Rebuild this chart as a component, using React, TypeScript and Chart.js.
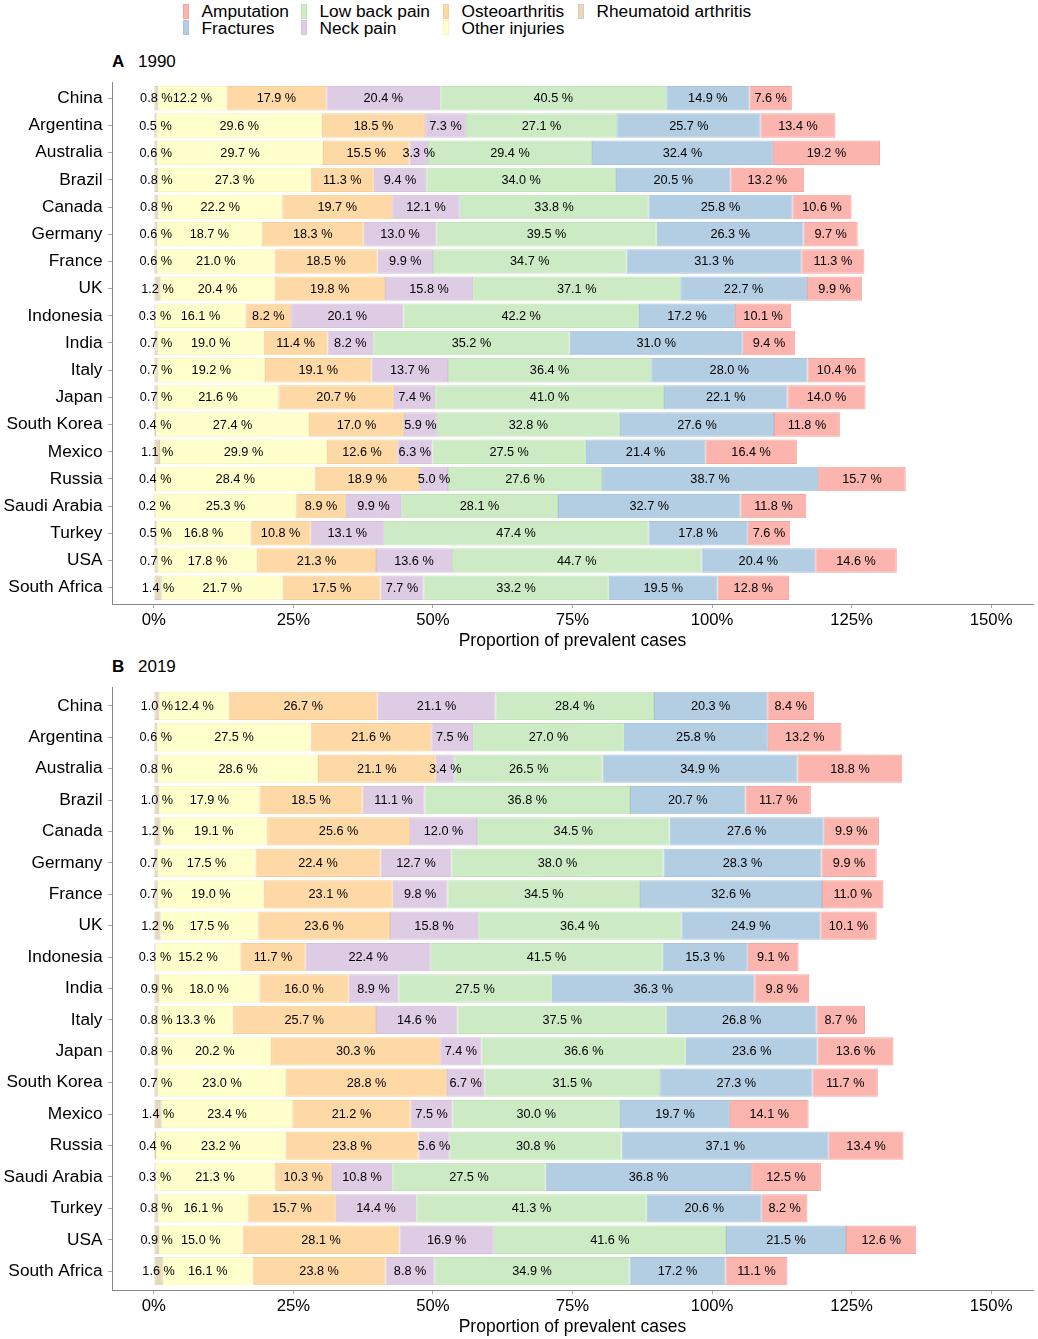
import React, { useEffect, useRef } from "react";
import { Chart, registerables } from "chart.js";
Chart.register(...registerables);

const FONT = '"Liberation Sans", Arial, Helvetica, sans-serif';

const categories = [
  "China", "Argentina", "Australia", "Brazil", "Canada", "Germany", "France", "UK",
  "Indonesia", "India", "Italy", "Japan", "South Korea", "Mexico", "Russia",
  "Saudi Arabia", "Turkey", "USA", "South Africa",
];

const seriesNames = [
  "Rheumatoid arthritis", "Other injuries", "Osteoarthritis", "Neck pain",
  "Low back pain", "Fractures", "Amputation",
];
const seriesColors = ["#E5D8BD", "#FFFFCC", "#FED9A6", "#DECBE4", "#CCEBC5", "#B3CDE3", "#FBB4AE"];
const seriesBorders = ["#DCCDAE", "#F7F7BF", "#F8CF98", "#D6C0DD", "#C1E3B9", "#A8C4DD", "#F5A6A0"];

const xTicks = [0, 25, 50, 75, 100, 125, 150];

// 1990
const rheumatoid1990 = [0.8, 0.5, 0.6, 0.8, 0.8, 0.6, 0.6, 1.2, 0.3, 0.7, 0.7, 0.7, 0.4, 1.1, 0.4, 0.2, 0.5, 0.7, 1.4];
const otherInjuries1990 = [12.2, 29.6, 29.7, 27.3, 22.2, 18.7, 21.0, 20.4, 16.1, 19.0, 19.2, 21.6, 27.4, 29.9, 28.4, 25.3, 16.8, 17.8, 21.7];
const osteoarthritis1990 = [17.9, 18.5, 15.5, 11.3, 19.7, 18.3, 18.5, 19.8, 8.2, 11.4, 19.1, 20.7, 17.0, 12.6, 18.9, 8.9, 10.8, 21.3, 17.5];
const neckPain1990 = [20.4, 7.3, 3.3, 9.4, 12.1, 13.0, 9.9, 15.8, 20.1, 8.2, 13.7, 7.4, 5.9, 6.3, 5.0, 9.9, 13.1, 13.6, 7.7];
const lowBackPain1990 = [40.5, 27.1, 29.4, 34.0, 33.8, 39.5, 34.7, 37.1, 42.2, 35.2, 36.4, 41.0, 32.8, 27.5, 27.6, 28.1, 47.4, 44.7, 33.2];
const fractures1990 = [14.9, 25.7, 32.4, 20.5, 25.8, 26.3, 31.3, 22.7, 17.2, 31.0, 28.0, 22.1, 27.6, 21.4, 38.7, 32.7, 17.8, 20.4, 19.5];
const amputation1990 = [7.6, 13.4, 19.2, 13.2, 10.6, 9.7, 11.3, 9.9, 10.1, 9.4, 10.4, 14.0, 11.8, 16.4, 15.7, 11.8, 7.6, 14.6, 12.8];

// 2019
const rheumatoid2019 = [1.0, 0.6, 0.8, 1.0, 1.2, 0.7, 0.7, 1.2, 0.3, 0.9, 0.8, 0.8, 0.7, 1.4, 0.4, 0.3, 0.8, 0.9, 1.6];
const otherInjuries2019 = [12.4, 27.5, 28.6, 17.9, 19.1, 17.5, 19.0, 17.5, 15.2, 18.0, 13.3, 20.2, 23.0, 23.4, 23.2, 21.3, 16.1, 15.0, 16.1];
const osteoarthritis2019 = [26.7, 21.6, 21.1, 18.5, 25.6, 22.4, 23.1, 23.6, 11.7, 16.0, 25.7, 30.3, 28.8, 21.2, 23.8, 10.3, 15.7, 28.1, 23.8];
const neckPain2019 = [21.1, 7.5, 3.4, 11.1, 12.0, 12.7, 9.8, 15.8, 22.4, 8.9, 14.6, 7.4, 6.7, 7.5, 5.6, 10.8, 14.4, 16.9, 8.8];
const lowBackPain2019 = [28.4, 27.0, 26.5, 36.8, 34.5, 38.0, 34.5, 36.4, 41.5, 27.5, 37.5, 36.6, 31.5, 30.0, 30.8, 27.5, 41.3, 41.6, 34.9];
const fractures2019 = [20.3, 25.8, 34.9, 20.7, 27.6, 28.3, 32.6, 24.9, 15.3, 36.3, 26.8, 23.6, 27.3, 19.7, 37.1, 36.8, 20.6, 21.5, 17.2];
const amputation2019 = [8.4, 13.2, 18.8, 11.7, 9.9, 9.9, 11.0, 10.1, 9.1, 9.8, 8.7, 13.6, 11.7, 14.1, 13.4, 12.5, 8.2, 12.6, 11.1];

const values1990 = [rheumatoid1990, otherInjuries1990, osteoarthritis1990, neckPain1990, lowBackPain1990, fractures1990, amputation1990];
const values2019 = [rheumatoid2019, otherInjuries2019, osteoarthritis2019, neckPain2019, lowBackPain2019, fractures2019, amputation2019];

const legendRows = [
  ["Amputation", "Low back pain", "Osteoarthritis", "Rheumatoid arthritis"],
  ["Fractures", "Neck pain", "Other injuries"],
];

const segmentLabels = {
  id: "segmentLabels",
  afterDatasetsDraw(chart: any) {
    const ctx = chart.ctx;
    ctx.save();
    ctx.font = `12.7px ${FONT}`;
    ctx.fillStyle = "#000";
    ctx.textAlign = "center";
    ctx.textBaseline = "middle";
    chart.data.datasets.forEach((ds: any, di: number) => {
      const meta = chart.getDatasetMeta(di);
      meta.data.forEach((bar: any, i: number) => {
        const v = ds.data[i].x;
        const p = bar.getProps(["x", "y", "base"], true);
        ctx.fillText(v.toFixed(1) + " %", (p.x + p.base) / 2, p.y + 0.5);
      });
    });
    ctx.restore();
  },
};

type PanelProps = {
  values: number[][];
  top: number;
  height: number;
  plotTop: number;
  axisHeight: number;
  titlePad: number;
};

function Panel({ values, top, height, plotTop, axisHeight, titlePad }: PanelProps) {
  const ref = useRef<HTMLCanvasElement>(null);
  useEffect(() => {
    if (!ref.current) return;
    const chart = new Chart(ref.current, {
      type: "bar",
      data: {
        labels: categories.map((_, i) => i),
        datasets: seriesNames.map((name, s) => ({
          label: name,
          data: values[s].map((v, i) => ({ x: v, y: i })),
          backgroundColor: seriesColors[s],
          borderColor: seriesBorders[s],
          borderWidth: 1,
          borderSkipped: false,
          barPercentage: 0.9,
          categoryPercentage: 1,
        })),
      } as any,
      options: {
        indexAxis: "y",
        responsive: false,
        maintainAspectRatio: false,
        animation: false,
        devicePixelRatio: 1,
        layout: { padding: { top: plotTop, right: 5, left: 0, bottom: 0 } },
        plugins: { legend: { display: false }, tooltip: { enabled: false } },
        scales: {
          y: {
            type: "linear",
            reverse: true,
            offset: false,
            min: -0.6,
            max: 18.6,
            stacked: true,
            afterBuildTicks: (s: any) => {
              s.ticks = categories.map((_, i) => ({ value: i }));
            },
            afterFit: (s: any) => {
              s.width = 112;
            },
            ticks: {
              autoSkip: false,
              padding: 5.5,
              color: "#000",
              font: { size: 17.3, family: FONT },
              callback: (v: any) => categories[Math.round(Number(v))],
            },
            grid: { offset: false, drawOnChartArea: false, drawTicks: true, tickLength: 4, color: "#aaa" },
            border: { display: true, color: "#888", width: 1 },
          },
          x: {
            type: "linear",
            offset: false,
            min: -7.5,
            max: 157.5,
            stacked: true,
            afterBuildTicks: (s: any) => {
              s.ticks = xTicks.map((v) => ({ value: v }));
            },
            afterFit: (s: any) => {
              s.height = axisHeight;
            },
            ticks: {
              autoSkip: false,
              maxRotation: 0,
              padding: 2.5,
              color: "#000",
              font: { size: 16.7, family: FONT },
              callback: (v: any) => v + "%",
            },
            grid: { drawOnChartArea: false, drawTicks: true, tickLength: 4, color: "#aaa" },
            border: { display: true, color: "#888", width: 1 },
            title: {
              display: true,
              text: "Proportion of prevalent cases",
              color: "#000",
              font: { size: 17.5, family: FONT },
              padding: { top: 0, bottom: titlePad },
            },
          },
        },
      } as any,
      plugins: [segmentLabels],
    });
    return () => chart.destroy();
  }, []);
  return (
    <div style={{ position: "absolute", left: 0, top, width: 1038, height }}>
      <canvas ref={ref} width={1038} height={height} style={{ width: 1038, height, display: "block" }} />
    </div>
  );
}

const legendKeyX = [183, 301, 443, 578];

export default function App() {
  return (
    <div
      style={{
        position: "absolute",
        left: 0,
        top: 0,
        width: 1038,
        height: 1339,
        background: "#fff",
        fontFamily: FONT,
        color: "#000",
        overflow: "hidden",
      }}
    >
      {legendRows.map((row, r) =>
        row.map((name, c) => {
          const s = seriesNames.indexOf(name);
          const cy = r === 0 ? 11 : 27.5;
          return (
            <React.Fragment key={name}>
              <div
                style={{
                  position: "absolute",
                  left: legendKeyX[c],
                  top: cy - 7.5,
                  width: 6,
                  height: 15,
                  background: seriesColors[s],
                  boxShadow: `inset 0 0 0 1px ${seriesBorders[s]}`,
                }}
              />
              <div
                style={{
                  position: "absolute",
                  left: legendKeyX[c] + 18.5,
                  top: cy - 10,
                  height: 20,
                  lineHeight: "20px",
                  fontSize: 17.3,
                  whiteSpace: "nowrap",
                }}
              >
                {name}
              </div>
            </React.Fragment>
          );
        })
      )}
      <div style={{ position: "absolute", left: 112, top: 52, lineHeight: "20px", fontSize: 17, fontWeight: "bold" }}>A</div>
      <div style={{ position: "absolute", left: 138, top: 52, lineHeight: "20px", fontSize: 17 }}>1990</div>
      <div style={{ position: "absolute", left: 112, top: 657, lineHeight: "20px", fontSize: 17, fontWeight: "bold" }}>B</div>
      <div style={{ position: "absolute", left: 138, top: 657, lineHeight: "20px", fontSize: 17 }}>2019</div>
      <Panel values={values1990} top={44} height={610} plotTop={38} axisHeight={50} titlePad={2.8} />
      <Panel values={values2019} top={655} height={684} plotTop={32} axisHeight={49} titlePad={1.8} />
    </div>
  );
}
